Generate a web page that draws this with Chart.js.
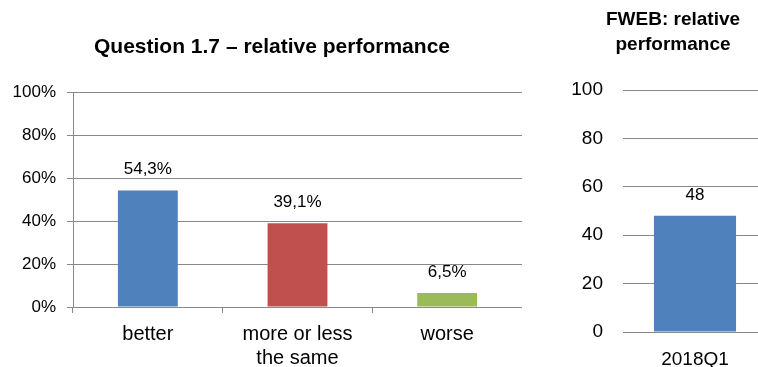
<!DOCTYPE html>
<html>
<head>
<meta charset="utf-8">
<script src="https://cdn.jsdelivr.net/npm/chart.js@4"></script>
<style>
  body { margin: 0; width: 758px; height: 367px; overflow: hidden; background: #fff; position: relative; }
  canvas { position: absolute; top: 0; }
  #leftChart { left: 0; }
  #rightChart { left: 540px; }
</style>
</head>
<body>
<canvas id="leftChart" width="522" height="367"></canvas>
<canvas id="rightChart" width="227" height="367"></canvas>
<script>
// left panel
const answers = ['better', ['more or less', 'the same'], 'worse'];
const answerShares = [54.3, 39.1, 6.5];
const answerColors = ['#4F81BD', '#C0504D', '#9BBB59'];
const percentTicks = [0, 20, 40, 60, 80, 100];
const questionTitle = ['Question 1.7 \u2013 relative performance'];

// right panel
const quarters = ['2018Q1'];
const fwebValues = [48];
const fwebTicks = [0, 20, 40, 60, 80, 100];
const fwebTitle = ['FWEB: relative', 'performance'];

const FONT = "'Liberation Sans', Arial, sans-serif";
const GRID = '#888888';

// value labels above the bars
const barLabels = {
  id: 'barLabels',
  afterDatasetsDraw(chart, args, opts) {
    const ctx = chart.ctx;
    ctx.save();
    ctx.font = opts.size + 'px ' + FONT;
    ctx.fillStyle = '#000';
    ctx.textAlign = 'center';
    ctx.textBaseline = 'middle';
    chart.getDatasetMeta(0).data.forEach((bar, i) => {
      ctx.fillText(opts.format(chart.data.datasets[0].data[i]), bar.x, bar.y - 21);
    });
    ctx.restore();
  }
};

// titles are a bit off-centre over their panels, so draw them by hand
const sideTitle = {
  id: 'sideTitle',
  afterDraw(chart, args, opts) {
    if (!opts.lines) return;
    const ctx = chart.ctx;
    ctx.save();
    ctx.font = 'bold ' + opts.size + 'px ' + FONT;
    ctx.fillStyle = '#000';
    ctx.textAlign = 'center';
    ctx.textBaseline = 'middle';
    opts.lines.forEach((t, i) => ctx.fillText(t, opts.x, opts.y + i * 25));
    ctx.restore();
  }
};

new Chart(document.getElementById('leftChart'), {
  type: 'bar',
  data: {
    labels: answers,
    datasets: [{
      data: answerShares,
      backgroundColor: answerColors,
      categoryPercentage: 1,
      barPercentage: 0.4
    }]
  },
  plugins: [barLabels, sideTitle],
  options: {
    responsive: false,
    animation: false,
    layout: { padding: { left: 0, right: 0, top: 92.5, bottom: 0 } },
    plugins: {
      legend: { display: false },
      tooltip: { enabled: false },
      title: { display: false },
      sideTitle: { lines: questionTitle, size: 21, x: 272, y: 47.5 },
      barLabels: { size: 17, format: v => v.toFixed(1).replace('.', ',') + '%' }
    },
    scales: {
      x: {
        grid: { drawOnChartArea: false, drawTicks: true, tickLength: 6, color: GRID, offset: true },
        border: { display: true, color: GRID },
        ticks: { color: '#000', font: { family: FONT, size: 20, lineHeight: 1.2 }, padding: 9, maxRotation: 0 },
        afterFit(scale) { scale.height = 60; }
      },
      y: {
        min: 0,
        max: 100,
        afterBuildTicks(scale) { scale.ticks = percentTicks.map(v => ({ value: v })); },
        grid: { color: GRID, tickLength: 6 },
        border: { display: true, color: GRID },
        ticks: { color: '#000', font: { family: FONT, size: 17 }, padding: 11, callback: v => v + '%' },
        afterFit(scale) { scale.width = 73; }
      }
    }
  }
});

new Chart(document.getElementById('rightChart'), {
  type: 'bar',
  data: {
    labels: quarters,
    datasets: [{
      data: fwebValues,
      backgroundColor: '#4F81BD',
      categoryPercentage: 1,
      barPercentage: 0.57
    }]
  },
  plugins: [barLabels, sideTitle],
  options: {
    responsive: false,
    animation: false,
    layout: { padding: { left: 0, right: 0, top: 90, bottom: 0 } },
    plugins: {
      legend: { display: false },
      tooltip: { enabled: false },
      title: { display: false },
      sideTitle: { lines: fwebTitle, size: 19, x: 133, y: 20 },
      barLabels: { size: 17, format: v => String(v) }
    },
    scales: {
      x: {
        grid: { display: false },
        border: { display: false },
        ticks: { color: '#000', font: { family: FONT, size: 19 }, padding: 8, maxRotation: 0 },
        afterFit(scale) { scale.height = 35; }
      },
      y: {
        min: 0,
        max: 100,
        afterBuildTicks(scale) { scale.ticks = fwebTicks.map(v => ({ value: v })); },
        grid: { color: GRID, drawTicks: false },
        border: { display: false },
        ticks: { color: '#000', font: { family: FONT, size: 19 }, padding: 20 },
        afterFit(scale) { scale.width = 83; }
      }
    }
  }
});
</script>
</body>
</html>
